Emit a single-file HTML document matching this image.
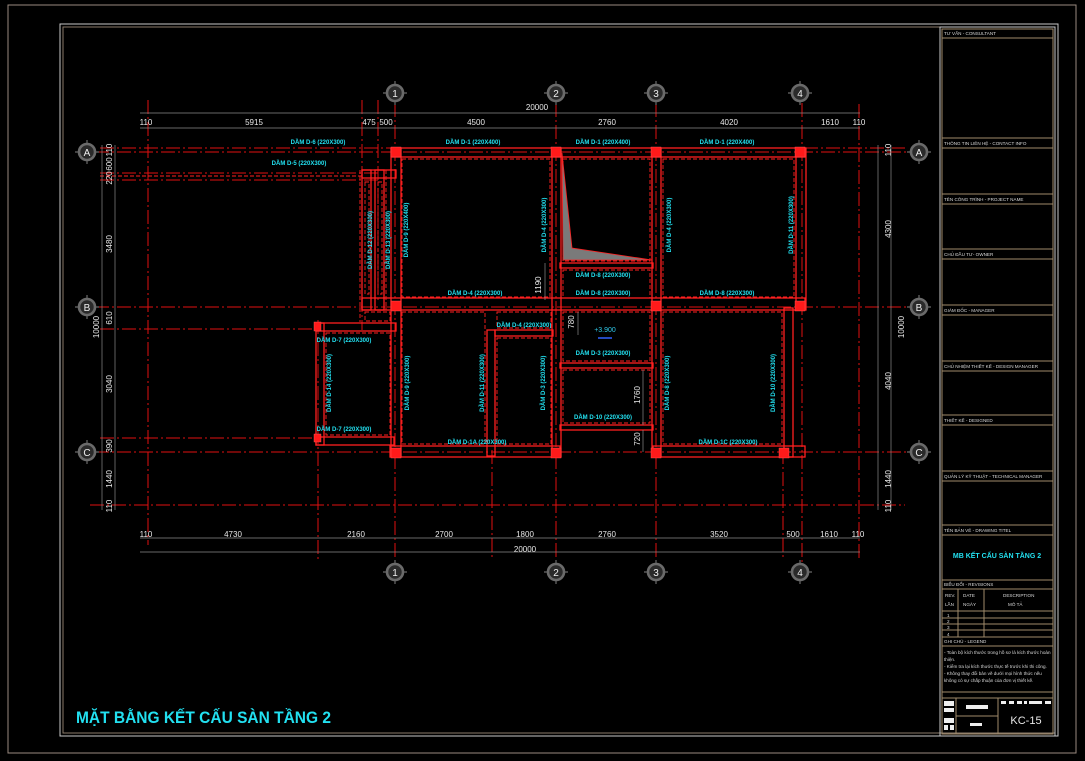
<!DOCTYPE html>
<html><head><meta charset="utf-8">
<style>
html,body{margin:0;padding:0;background:#000;}
svg{display:block;}
.cl{stroke:#e01010;stroke-width:1;fill:none;stroke-dasharray:14 3 2 3;}
.b{stroke:#ff2020;stroke-width:1.3;fill:none;}
.bd{stroke:#ff2020;stroke-width:0.9;fill:none;stroke-dasharray:4 2;}
.col{fill:#ff1a1a;stroke:#ff6060;stroke-width:0.4;}
.dim{stroke:#8a8a8a;stroke-width:0.7;fill:none;}
.dt{fill:#e8e8e8;font-family:"Liberation Sans",sans-serif;font-size:8px;text-anchor:middle;}
.lb{fill:#22e0f0;font-family:"Liberation Sans",sans-serif;font-size:6px;font-weight:bold;text-anchor:middle;}
.tb{stroke:#a08a6a;stroke-width:1;fill:none;}
.tt{fill:#d8d8d8;font-family:"Liberation Sans",sans-serif;font-size:4.6px;}
.bub{fill:#2a2a2a;stroke:#6a6a6a;stroke-width:2.6;}
.tick{stroke:#6a6a6a;stroke-width:1.2;}
.bt{fill:#eee;font-family:"Liberation Sans",sans-serif;font-size:10px;text-anchor:middle;}
</style></head><body>
<svg width="1085" height="761" viewBox="0 0 1085 761" xmlns="http://www.w3.org/2000/svg">
<defs>
<g id="bb"><line class="tick" x1="-12" y1="0" x2="12" y2="0"/><line class="tick" x1="0" y1="-12" x2="0" y2="12"/><circle r="8" class="bub"/></g>
</defs>
<rect width="1085" height="761" fill="#000"/>
<rect x="8" y="5" width="1068" height="748" fill="none" stroke="#9a8a80" stroke-width="1"/>
<rect x="60" y="24" width="998" height="712" fill="none" stroke="#c8c8c8" stroke-width="1"/>
<rect x="63" y="27" width="992" height="706" fill="none" stroke="#8a7a6a" stroke-width="1"/>

<g class="cl">
<line x1="148" y1="100" x2="148" y2="545"/>
<line x1="318" y1="320" x2="318" y2="560"/>
<line x1="362" y1="100" x2="362" y2="330"/>
<line x1="378" y1="100" x2="378" y2="300"/>
<line x1="395" y1="103" x2="395" y2="562"/>
<line x1="492" y1="450" x2="492" y2="560"/>
<line x1="556" y1="103" x2="556" y2="562"/>
<line x1="656" y1="103" x2="656" y2="562"/>
<line x1="783" y1="450" x2="783" y2="560"/>
<line x1="802" y1="103" x2="802" y2="562"/>
<line x1="859" y1="104" x2="859" y2="560"/>
<line x1="100" y1="148" x2="905" y2="148"/>
<line x1="95" y1="152" x2="912" y2="152"/>
<line x1="100" y1="173" x2="380" y2="173"/>
<line x1="100" y1="180" x2="380" y2="180"/>
<line x1="95" y1="307" x2="912" y2="307"/>
<line x1="100" y1="329" x2="320" y2="329"/>
<line x1="100" y1="438" x2="320" y2="438"/>
<line x1="95" y1="452" x2="912" y2="452"/>
<line x1="90" y1="505" x2="905" y2="505"/>
</g>

<g class="b">
<rect x="392" y="148" width="413" height="9"/>
<rect x="362" y="170" width="34" height="8"/>
<rect x="362" y="298" width="443" height="12"/>
<rect x="316" y="323" width="80" height="8"/>
<rect x="390" y="446" width="170" height="11"/>
<rect x="653" y="446" width="152" height="11"/>
<rect x="316" y="437" width="78" height="8"/>
<rect x="391" y="148" width="10" height="309"/>
<rect x="552" y="148" width="9" height="309"/>
<rect x="652" y="148" width="9" height="309"/>
<rect x="796" y="148" width="10" height="162"/>
<rect x="784" y="308" width="9" height="149"/>
<rect x="316" y="323" width="8" height="122"/>
<rect x="362" y="170" width="9" height="140"/>
<rect x="375" y="170" width="9" height="140"/>
<rect x="487" y="330" width="8" height="126"/>
<rect x="560" y="263" width="93" height="5"/>
<rect x="560" y="363" width="93" height="5"/>
<rect x="560" y="425" width="93" height="5"/>
<rect x="495" y="330" width="58" height="6"/>
</g>
<g class="bd">
<rect x="402" y="159" width="148" height="138"/>
<rect x="563" y="159" width="87" height="102"/>
<rect x="663" y="159" width="131" height="138"/>
<rect x="563" y="270" width="87" height="28"/>
<rect x="563" y="312" width="87" height="49"/>
<rect x="563" y="370" width="87" height="53"/>
<rect x="402" y="312" width="83" height="132"/>
<rect x="497" y="338" width="54" height="106"/>
<rect x="497" y="312" width="54" height="16"/>
<rect x="663" y="312" width="119" height="132"/>
<rect x="326" y="333" width="64" height="102"/>
<rect x="365" y="312" width="25" height="9"/>
<rect x="365" y="182" width="4" height="112"/>
<rect x="378" y="182" width="4" height="112"/>
<line x1="100" y1="176" x2="362" y2="176"/>
<line x1="360" y1="170" x2="360" y2="322"/>
<line x1="386" y1="170" x2="386" y2="310"/>
</g>
<g class="col">
<rect x="391" y="147" width="10" height="10"/>
<rect x="551" y="147" width="10" height="10"/>
<rect x="651" y="147" width="10" height="10"/>
<rect x="795" y="147" width="10" height="10"/>
<rect x="391" y="301" width="10" height="10"/>
<rect x="651" y="301" width="10" height="10"/>
<rect x="795" y="301" width="10" height="10"/>
<rect x="391" y="448" width="10" height="10"/>
<rect x="551" y="448" width="10" height="10"/>
<rect x="651" y="448" width="10" height="10"/>
<rect x="779" y="448" width="10" height="10"/>
<rect x="314" y="322" width="7" height="9"/>
<rect x="314" y="434" width="7" height="8"/>
</g>
<polygon points="562,153 572,248 652,260 563,260" fill="#7a7a7a" stroke="#ff2020" stroke-width="0.8"/>

<g class="dim">
<line x1="140" y1="113" x2="860" y2="113"/>
<line x1="140" y1="128" x2="860" y2="128"/>
<line x1="140" y1="538" x2="860" y2="538"/>
<line x1="140" y1="552" x2="860" y2="552"/>
<line x1="102" y1="145" x2="102" y2="510"/>
<line x1="115" y1="145" x2="115" y2="510"/>
<line x1="878" y1="145" x2="878" y2="510"/>
<line x1="891" y1="145" x2="891" y2="510"/>
<line x1="545" y1="263" x2="545" y2="300"/>
<line x1="578" y1="312" x2="578" y2="335"/>
<line x1="643" y1="370" x2="643" y2="425"/>
<line x1="643" y1="430" x2="643" y2="452"/>
</g>
<g class="dt">
<text x="537" y="110">20000</text>
<text x="146" y="125">110</text>
<text x="254" y="125">5915</text>
<text x="369" y="125">475</text>
<text x="386" y="125">500</text>
<text x="476" y="125">4500</text>
<text x="607" y="125">2760</text>
<text x="729" y="125">4020</text>
<text x="830" y="125">1610</text>
<text x="859" y="125">110</text>
<text x="146" y="537">110</text>
<text x="233" y="537">4730</text>
<text x="356" y="537">2160</text>
<text x="444" y="537">2700</text>
<text x="525" y="537">1800</text>
<text x="607" y="537">2760</text>
<text x="719" y="537">3520</text>
<text x="793" y="537">500</text>
<text x="829" y="537">1610</text>
<text x="858" y="537">110</text>
<text x="525" y="552">20000</text>
<text transform="translate(112,150) rotate(-90)">110</text>
<text transform="translate(112,164) rotate(-90)">600</text>
<text transform="translate(112,178) rotate(-90)">220</text>
<text transform="translate(112,244) rotate(-90)">3480</text>
<text transform="translate(112,318) rotate(-90)">610</text>
<text transform="translate(99,327) rotate(-90)">10000</text>
<text transform="translate(112,384) rotate(-90)">3040</text>
<text transform="translate(112,446) rotate(-90)">390</text>
<text transform="translate(112,479) rotate(-90)">1440</text>
<text transform="translate(112,506) rotate(-90)">110</text>
<text transform="translate(891,150) rotate(-90)">110</text>
<text transform="translate(891,229) rotate(-90)">4300</text>
<text transform="translate(904,327) rotate(-90)">10000</text>
<text transform="translate(891,381) rotate(-90)">4040</text>
<text transform="translate(891,479) rotate(-90)">1440</text>
<text transform="translate(891,506) rotate(-90)">110</text>
<text transform="translate(541,285) rotate(-90)">1190</text>
<text transform="translate(574,322) rotate(-90)">780</text>
<text transform="translate(640,395) rotate(-90)">1760</text>
<text transform="translate(640,439) rotate(-90)">720</text>
</g>
<text x="605" y="332" fill="#30c8e8" font-family="Liberation Sans,sans-serif" font-size="7" text-anchor="middle">+3.900</text>
<line x1="598" y1="338" x2="612" y2="338" stroke="#3060ff" stroke-width="1.5"/>

<g class="lb">
<text x="318" y="144">DẦM D-6 (220X300)</text>
<text x="299" y="165">DẦM D-5 (220X300)</text>
<text x="473" y="144">DẦM D-1 (220X400)</text>
<text x="603" y="144">DẦM D-1 (220X400)</text>
<text x="727" y="144">DẦM D-1 (220X400)</text>
<text x="603" y="277">DẦM D-8 (220X300)</text>
<text x="603" y="295">DẦM D-8 (220X300)</text>
<text x="727" y="295">DẦM D-8 (220X300)</text>
<text x="475" y="295">DẦM D-4 (220X300)</text>
<text x="524" y="327">DẦM D-4 (220X300)</text>
<text x="344" y="342">DẦM D-7 (220X300)</text>
<text x="603" y="355">DẦM D-3 (220X300)</text>
<text x="603" y="419">DẦM D-10 (220X300)</text>
<text x="344" y="431">DẦM D-7 (220X300)</text>
<text x="477" y="444">DẦM D-1A (220X300)</text>
<text x="728" y="444">DẦM D-1C (220X300)</text>
<g transform="translate(372,240) rotate(-90)"><text>DẦM D-12 (220X300)</text></g>
<g transform="translate(390,240) rotate(-90)"><text>DẦM D-13 (220X300)</text></g>
<g transform="translate(408,230) rotate(-90)"><text>DẦM D-9 (220X400)</text></g>
<g transform="translate(546,225) rotate(-90)"><text>DẦM D-4 (220X300)</text></g>
<g transform="translate(671,225) rotate(-90)"><text>DẦM D-4 (220X300)</text></g>
<g transform="translate(793,225) rotate(-90)"><text>DẦM D-11 (220X300)</text></g>
<g transform="translate(331,383) rotate(-90)"><text>DẦM D-14 (220X300)</text></g>
<g transform="translate(409,383) rotate(-90)"><text>DẦM D-9 (220X300)</text></g>
<g transform="translate(484,383) rotate(-90)"><text>DẦM D-11 (220X300)</text></g>
<g transform="translate(545,383) rotate(-90)"><text>DẦM D-3 (220X300)</text></g>
<g transform="translate(669,383) rotate(-90)"><text>DẦM D-8 (220X300)</text></g>
<g transform="translate(775,383) rotate(-90)"><text>DẦM D-10 (220X300)</text></g>
</g>

<g>
<g transform="translate(395,93)"><use href="#bb"/><text y="4" class="bt">1</text></g>
<g transform="translate(556,93)"><use href="#bb"/><text y="4" class="bt">2</text></g>
<g transform="translate(656,93)"><use href="#bb"/><text y="4" class="bt">3</text></g>
<g transform="translate(800,93)"><use href="#bb"/><text y="4" class="bt">4</text></g>
<g transform="translate(395,572)"><use href="#bb"/><text y="4" class="bt">1</text></g>
<g transform="translate(556,572)"><use href="#bb"/><text y="4" class="bt">2</text></g>
<g transform="translate(656,572)"><use href="#bb"/><text y="4" class="bt">3</text></g>
<g transform="translate(800,572)"><use href="#bb"/><text y="4" class="bt">4</text></g>
<g transform="translate(87,152)"><use href="#bb"/><text y="4" class="bt">A</text></g>
<g transform="translate(87,307)"><use href="#bb"/><text y="4" class="bt">B</text></g>
<g transform="translate(87,452)"><use href="#bb"/><text y="4" class="bt">C</text></g>
<g transform="translate(919,152)"><use href="#bb"/><text y="4" class="bt">A</text></g>
<g transform="translate(919,307)"><use href="#bb"/><text y="4" class="bt">B</text></g>
<g transform="translate(919,452)"><use href="#bb"/><text y="4" class="bt">C</text></g>
</g>

<text x="76" y="723" fill="#22e0f0" font-family="Liberation Sans,sans-serif" font-size="17" font-weight="bold" textLength="255" lengthAdjust="spacingAndGlyphs">MẶT BẰNG KẾT CẤU SÀN TẦNG 2</text>

<rect x="940" y="27" width="115" height="709" fill="none" stroke="#c8c8c8" stroke-width="1"/>
<rect x="942" y="29" width="111" height="705" class="tb"/>
<g class="tb">
<line x1="942" y1="38" x2="1053" y2="38"/>
<line x1="942" y1="138" x2="1053" y2="138"/><line x1="942" y1="148" x2="1053" y2="148"/>
<line x1="942" y1="194" x2="1053" y2="194"/><line x1="942" y1="204" x2="1053" y2="204"/>
<line x1="942" y1="249" x2="1053" y2="249"/><line x1="942" y1="259" x2="1053" y2="259"/>
<line x1="942" y1="305" x2="1053" y2="305"/><line x1="942" y1="315" x2="1053" y2="315"/>
<line x1="942" y1="361" x2="1053" y2="361"/><line x1="942" y1="371" x2="1053" y2="371"/>
<line x1="942" y1="415" x2="1053" y2="415"/><line x1="942" y1="425" x2="1053" y2="425"/>
<line x1="942" y1="471" x2="1053" y2="471"/><line x1="942" y1="481" x2="1053" y2="481"/>
<line x1="942" y1="525" x2="1053" y2="525"/><line x1="942" y1="535" x2="1053" y2="535"/>
<line x1="942" y1="580" x2="1053" y2="580"/><line x1="942" y1="589" x2="1053" y2="589"/>
<line x1="942" y1="611" x2="1053" y2="611"/>
<line x1="942" y1="618" x2="1053" y2="618"/>
<line x1="942" y1="624" x2="1053" y2="624"/>
<line x1="942" y1="630" x2="1053" y2="630"/>
<line x1="942" y1="637" x2="1053" y2="637"/>
<line x1="942" y1="646" x2="1053" y2="646"/>
<line x1="942" y1="692" x2="1053" y2="692"/>
<line x1="942" y1="698" x2="1053" y2="698"/>
<line x1="958" y1="589" x2="958" y2="637"/>
<line x1="984" y1="589" x2="984" y2="637"/>
<line x1="956" y1="698" x2="956" y2="734"/>
<line x1="998" y1="698" x2="998" y2="734"/>
<line x1="956" y1="716" x2="998" y2="716"/>
</g>
<g class="tt">
<text x="944" y="35">TƯ VẤN - CONSULTANT</text>
<text x="944" y="145">THÔNG TIN LIÊN HỆ - CONTACT INFO</text>
<text x="944" y="201">TÊN CÔNG TRÌNH - PROJECT NAME</text>
<text x="944" y="256">CHỦ ĐẦU TƯ- OWNER</text>
<text x="944" y="312">GIÁM ĐỐC - MANAGER</text>
<text x="944" y="368">CHỦ NHIỆM THIẾT KẾ - DESIGN MANAGER</text>
<text x="944" y="422">THIẾT KẾ - DESIGNED</text>
<text x="944" y="478">QUẢN LÝ KỸ THUẬT - TECHNICAL MANAGER</text>
<text x="944" y="532">TÊN BẢN VẼ - DRAWING TITEL</text>
<text x="944" y="586">BIỂU ĐỔI - REVISIONS</text>
<text x="945" y="597">REV.</text><text x="945" y="606">LẦN</text>
<text x="963" y="597">DATE</text><text x="963" y="606">NGÀY</text>
<text x="1003" y="597">DESCRIPTION</text><text x="1008" y="606">MÔ TẢ</text>
<text x="947" y="617">1</text><text x="947" y="623">2</text><text x="947" y="629">3</text><text x="947" y="636">4</text>
<text x="944" y="643">GHI CHÚ - LEGEND</text>
<text x="944" y="654">- Toàn bộ kích thước trong hồ sơ là kích thước hoàn</text>
<text x="944" y="661">thiện.</text>
<text x="944" y="668">- Kiểm tra lại kích thước thực tế trước khi thi công.</text>
<text x="944" y="675">- Không thay đổi bản vẽ dưới mọi hình thức nếu</text>
<text x="944" y="682">không có sự chấp thuận của đơn vị thiết kế.</text>
</g>
<text x="997" y="558" fill="#22e0f0" font-family="Liberation Sans,sans-serif" font-size="7" font-weight="bold" text-anchor="middle">MB KẾT CẤU SÀN TẦNG 2</text>
<g fill="#eee">
<rect x="944" y="701" width="10" height="5"/><rect x="944" y="708" width="10" height="4"/>
<rect x="944" y="718" width="10" height="5"/><rect x="944" y="725" width="4" height="5"/><rect x="950" y="725" width="4" height="5"/>
<rect x="966" y="705" width="22" height="4"/><rect x="970" y="723" width="12" height="3"/>
<rect x="1001" y="701" width="5" height="3"/><rect x="1009" y="701" width="5" height="3"/><rect x="1017" y="701" width="5" height="3"/><rect x="1024" y="701" width="3" height="3"/><rect x="1029" y="701" width="13" height="3"/><rect x="1045" y="701" width="6" height="3"/>
</g>
<text x="1026" y="724" fill="#e8e8e8" font-family="Liberation Sans,sans-serif" font-size="11" text-anchor="middle">KC-15</text>
</svg>
</body></html>
